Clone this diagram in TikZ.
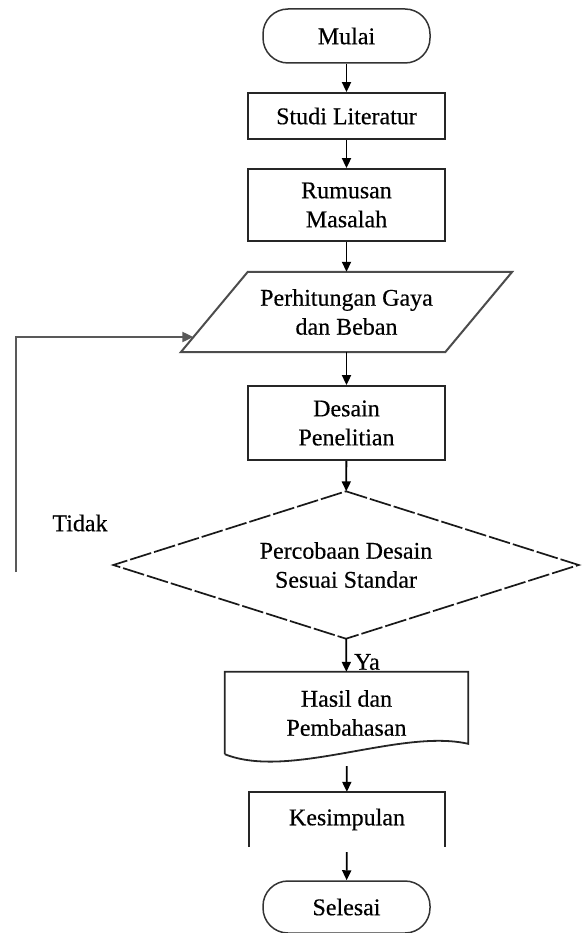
\documentclass[tikz,border=0pt]{standalone}
\usepackage{fontspec}
\setmainfont[FakeBold=0.4]{Liberation Serif}
\usetikzlibrary{arrows.meta,calc}
\begin{document}
\begin{tikzpicture}[x=1pt,y=-1pt,
  every node/.style={font=\fontsize{24}{29}\selectfont, align=center, inner sep=0pt, text=black},
  edge line/.style={draw=black!85, line width=1.8pt},
  procbox/.style={edge line, minimum width=197pt},
  term/.style={draw=black!80, line width=1.5pt, rounded corners=25pt, minimum width=167pt, minimum height=54pt},
  arr/.style={-{Triangle[length=10pt,width=9pt]}, line width=1.8pt, black},
  looparr/.style={-{Triangle[length=11pt,width=10pt]}, line width=2.2pt, black!65},
  para/.style={draw=black!70, line width=2pt},
  decision line/.style={draw=black!90, line width=1.7pt, dash pattern=on 22pt off 3pt}
]
\useasboundingbox (0,0) rectangle (581,933);

\node[term] (mulai) at (346.5,36) {Mulai};
\node[procbox, minimum height=46pt] (studi) at (346.5,116) {Studi Literatur};
\node[procbox, minimum height=72pt] (rumusan) at (346.5,205) {Rumusan\\Masalah};
\node[minimum width=264pt, minimum height=80pt] (hitung) at (346.5,312) {Perhitungan Gaya\\dan Beban};
\draw[para] ($(hitung.north west)+(33.5,0)$) -- ($(hitung.north east)+(33.5,0)$) -- ($(hitung.south east)+(-33.5,0)$) -- ($(hitung.south west)+(-33.5,0)$) -- cycle;
\node[procbox, minimum height=74pt] (desain) at (346.5,423) {Desain\\Penelitian};
\node[minimum width=465pt, minimum height=147pt] (uji) at (346,565) {Percobaan Desain\\Sesuai Standar};
\draw[decision line] (uji.north) -- (uji.east) -- (uji.south) -- (uji.west) -- cycle;
\node[minimum width=243pt, minimum height=82pt] (hasil) at (346.5,713) {Hasil dan\\Pembahasan};
\draw[edge line] (hasil.south west) -- (hasil.north west) -- (hasil.north east) -- ($(hasil.north east)+(0,72)$)
  .. controls ($(hasil.south east)+(-68,-26)$) and ($(hasil.south west)+(65,26)$) .. (hasil.south west);
\node[minimum width=196pt, minimum height=55pt] (kes) at (347,819.5) {Kesimpulan};
\draw[edge line] (kes.south west) -- (kes.north west) -- (kes.north east) -- (kes.south east);
\node[term, minimum height=52pt] (selesai) at (346.5,907) {Selesai};

\node (tidak) at (80,523) {Tidak};
\node (ya) at (367,662) {Ya};

\draw[arr] (mulai) -- (studi);
\draw[arr] (studi) -- (rumusan);
\draw[arr] (rumusan) -- (hitung);
\draw[arr] (hitung) -- (desain);
\draw[arr] (desain) -- (uji);
\draw[arr] (uji) -- (hasil);
\draw[arr, shorten <=12pt] (hasil) -- (kes);
\draw[arr, shorten <=5pt] (kes) -- (selesai);

\coordinate (loopstart) at (16,572);
\coordinate (loopend) at ($(hitung.west)+(-21,25)$);
\draw[looparr] (loopstart) |- (loopend);
\end{tikzpicture}
\end{document}
